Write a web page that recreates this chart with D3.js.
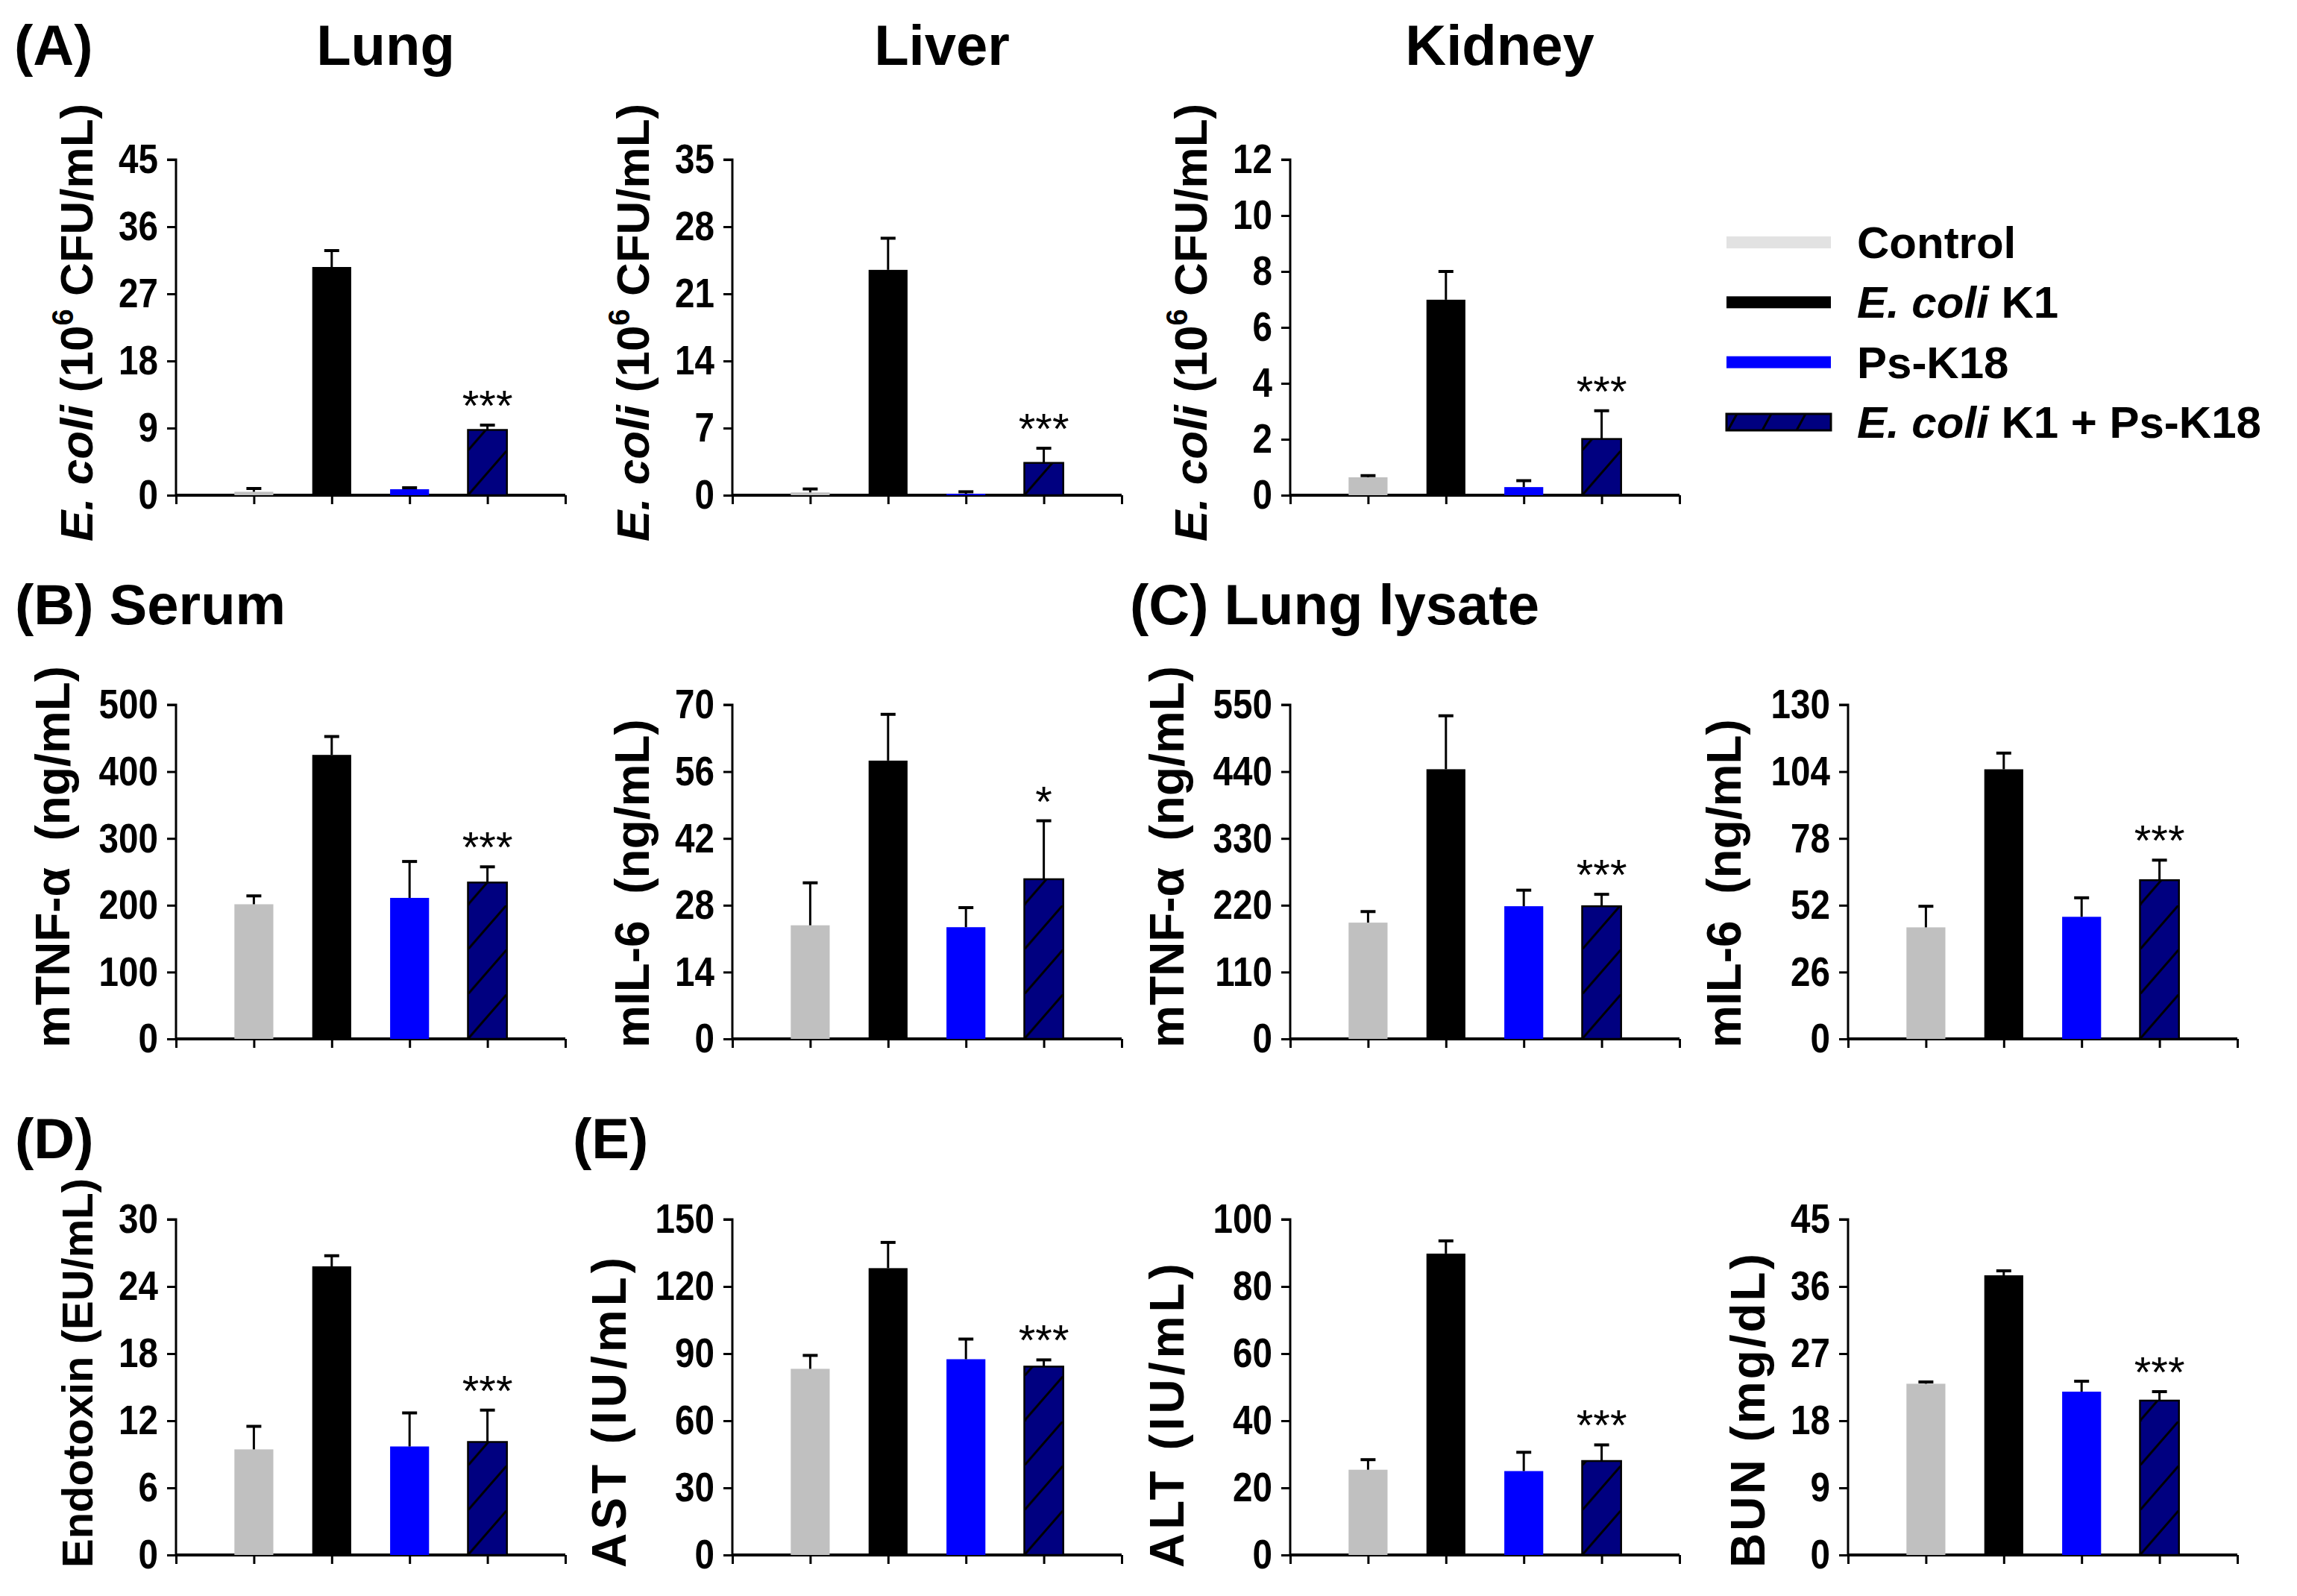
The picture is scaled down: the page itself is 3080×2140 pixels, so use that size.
<!DOCTYPE html>
<html>
<head>
<meta charset="utf-8">
<script src="https://cdn.jsdelivr.net/npm/d3@7/dist/d3.min.js"></script>
<style>
  html, body { margin: 0; padding: 0; background: #ffffff; }
  svg { display: block; }
  text { font-family: "Liberation Sans", Arial, Helvetica, sans-serif; }
</style>
</head>
<body>
<svg id="chart" width="3080" height="2140"></svg>
<script>
// ---------------- DATA ----------------
const groups = ["Control", "E. coli K1", "Ps-K18", "E. coli K1 + Ps-K18"];
const groupColors = ["#c0c0c0", "#000000", "#0000ff", "#000080"];

// (A) bacterial load, 10^6 CFU/mL
const lungCFU      = [0.46, 30.6, 0.8, 8.75];
const lungCFUsd    = [0.44, 2.2, 0.2, 0.65];
const liverCFU     = [0.29, 23.5, 0.14, 3.37];
const liverCFUsd   = [0.36, 3.3, 0.22, 1.53];
const kidneyCFU    = [0.64, 6.99, 0.29, 2.01];
const kidneyCFUsd  = [0.06, 1.01, 0.23, 1.01];
// (B) serum
const serumTNF     = [201.5, 425, 211, 234];
const serumTNFsd   = [12.5, 27.5, 54.5, 23.5];
const serumIL6     = [23.8, 58.3, 23.4, 33.45];
const serumIL6sd   = [8.9, 9.7, 4.1, 12.25];
// (C) lung lysate
const lysateTNF    = [191.4, 443.9, 218.4, 218.4];
const lysateTNFsd  = [18.2, 88, 26.4, 19.6];
const lysateIL6    = [43.4, 104.9, 47.5, 61.75];
const lysateIL6sd  = [8.2, 6.3, 7.4, 7.8];
// (D) endotoxin, (E) biochemistry
const endotoxin    = [9.44, 25.8, 9.7, 10.1];
const endotoxinSd  = [2.06, 0.95, 3.0, 2.85];
const ast          = [83.2, 128.2, 87.5, 84.2];
const astSd        = [6.0, 11.5, 9.0, 3.0];
const alt          = [25.4, 89.8, 25.0, 28.0];
const altSd        = [3.0, 3.8, 5.6, 4.8];
const bun          = [22.96, 37.5, 21.9, 20.7];
const bunSd        = [0.24, 0.6, 1.4, 1.2];

// axis maxima and tick steps
const axisMax  = [45, 35, 12, 500, 70, 550, 130, 30, 150, 100, 45];
const axisStep = [9, 7, 2, 100, 14, 110, 26, 6, 30, 20, 9];
const significance = ["***", "***", "***", "***", "*", "***", "***", "***", "***", "***", "***"];
const yLabels = ["ecoli", "ecoli", "ecoli",
                 "mTNF-α\u00a0\u00a0(ng/mL)", "mIL-6\u00a0\u00a0(ng/mL)", "mTNF-α\u00a0\u00a0(ng/mL)", "mIL-6\u00a0\u00a0(ng/mL)",
                 "Endotoxin (EU/mL)", "AST (IU/mL)", "ALT (IU/mL)", "BUN (mg/dL)"];
const organTitles = ["Lung", "Liver", "Kidney"];
const panelTitles = ["(A)", "(B) Serum", "(C) Lung lysate", "(D)", "(E)"];

// ---------------- LAYOUT / STYLE ----------------
const colX = [236, 982, 1730, 2478];
const plotW = 522;
const rowTop = [214, 945, 1635];
const rowZero = [664, 1393, 2085];
const labelBottomOffset = [62, 12, 17];
const labelFont    = [62, 62, 62, 64, 64, 64, 64, 58, 64, 64, 64];
const labelSpacing = [0, 0, 0, 0, 0, 0, 0, 0, 5, 5, 3];
const FONT_TICK = 56, TICK_SX = 0.85, FONT_TITLE = 76, FONT_LEG = 60, FONT_STAR = 58;

const panels = [
  { row: 0, col: 0, mean: lungCFU,   sd: lungCFUsd },
  { row: 0, col: 1, mean: liverCFU,  sd: liverCFUsd },
  { row: 0, col: 2, mean: kidneyCFU, sd: kidneyCFUsd },
  { row: 1, col: 0, mean: serumTNF,  sd: serumTNFsd },
  { row: 1, col: 1, mean: serumIL6,  sd: serumIL6sd },
  { row: 1, col: 2, mean: lysateTNF, sd: lysateTNFsd },
  { row: 1, col: 3, mean: lysateIL6, sd: lysateIL6sd },
  { row: 2, col: 0, mean: endotoxin, sd: endotoxinSd },
  { row: 2, col: 1, mean: ast,       sd: astSd },
  { row: 2, col: 2, mean: alt,       sd: altSd },
  { row: 2, col: 3, mean: bun,       sd: bunSd }
].map((p, i) => Object.assign(p, {
  max: axisMax[i], step: axisStep[i], sig: significance[i], label: yLabels[i],
  lf: labelFont[i], ls: labelSpacing[i]
}));

const svg = d3.select("#chart");
const defs = svg.append("defs");

function makeHatch(id, x0, y0, w) {
  const h = 60;
  const pat = defs.append("pattern")
    .attr("id", id).attr("patternUnits", "userSpaceOnUse")
    .attr("x", x0).attr("y", y0).attr("width", w).attr("height", h);
  pat.append("rect").attr("width", w).attr("height", h).attr("fill", "#000080");
  pat.append("line").attr("x1", 0).attr("y1", h).attr("x2", w).attr("y2", 0)
    .attr("stroke", "#000").attr("stroke-width", 3);
}

panels.forEach((p, pi) => {
  const x0 = colX[p.col];
  const y = d3.scaleLinear().domain([0, p.max]).range([rowZero[p.row], rowTop[p.row]]);
  const x = d3.scaleLinear().domain([0, 5]).range([x0, x0 + plotW]);
  const barW = (x(1) - x(0)) * 0.5;
  const g = svg.append("g");

  // y axis
  const ticks = d3.range(0, p.max + p.step / 2, p.step);
  const yAxis = d3.axisLeft(y).tickValues(ticks).tickSize(12).tickPadding(12).tickFormat(d3.format("d"));
  const ya = g.append("g").attr("transform", `translate(${x0},0)`).call(yAxis);
  ya.select(".domain").attr("stroke", "#000").attr("stroke-width", 3).attr("d", `M-12,${y(p.max)}H0V${y(0)}`);
  ya.selectAll(".tick line").attr("stroke", "#000").attr("stroke-width", 3);
  ya.selectAll(".tick text").attr("font-size", FONT_TICK).attr("font-weight", "bold").attr("fill", "#000")
    .attr("x", -24 / TICK_SX).attr("transform", `scale(${TICK_SX},1)`);

  // x axis
  const xAxis = d3.axisBottom(x).tickValues(d3.range(0, 6)).tickSize(12).tickFormat("");
  const xa = g.append("g").attr("transform", `translate(0,${y(0)})`).call(xAxis);
  xa.select(".domain").attr("stroke", "#000").attr("stroke-width", 4).attr("d", `M${x(0)},0H${x(5)}`);
  xa.selectAll(".tick line").attr("stroke", "#000").attr("stroke-width", 3);

  // hatch pattern for this panel
  const hid = "hatch" + pi;
  makeHatch(hid, x(4) - barW / 2, y(0), barW);

  // bars
  g.selectAll("rect.bar").data(p.mean).join("rect")
    .attr("class", "bar")
    .attr("x", (d, i) => x(i + 1) - barW / 2)
    .attr("width", barW)
    .attr("y", d => y(d))
    .attr("height", d => y(0) - y(d))
    .attr("fill", (d, i) => i === 3 ? `url(#${hid})` : groupColors[i])
    .attr("stroke", (d, i) => i === 3 ? "#000" : "none")
    .attr("stroke-width", 2.5);

  // error bars (upper)
  const eb = g.selectAll("g.err").data(p.mean).join("g").attr("class", "err");
  eb.append("line")
    .attr("x1", (d, i) => x(i + 1)).attr("x2", (d, i) => x(i + 1))
    .attr("y1", d => y(d)).attr("y2", (d, i) => y(d + p.sd[i]))
    .attr("stroke", "#000").attr("stroke-width", 3);
  eb.append("line")
    .attr("x1", (d, i) => x(i + 1) - 10).attr("x2", (d, i) => x(i + 1) + 10)
    .attr("y1", (d, i) => y(d + p.sd[i])).attr("y2", (d, i) => y(d + p.sd[i]))
    .attr("stroke", "#000").attr("stroke-width", 4);

  // significance
  g.append("text")
    .attr("x", x(4)).attr("y", y(p.mean[3] + p.sd[3]) - 6)
    .attr("text-anchor", "middle").attr("font-size", FONT_STAR).attr("fill", "#000")
    .text(p.sig);

  // y label (placed left of the unscaled tick-label width, as measured)
  let maxW = 0;
  ya.selectAll(".tick text").each(function () { maxW = Math.max(maxW, this.getBBox().width); });
  const bx = x0 - 24 - maxW - 26;
  const by = rowZero[p.row] + labelBottomOffset[p.row];
  const lt = g.append("text").attr("transform", `translate(${bx},${by}) rotate(-90)`)
    .attr("text-anchor", "start").attr("font-size", p.lf).attr("font-weight", "bold")
    .attr("letter-spacing", p.ls).attr("fill", "#000");
  if (p.label === "ecoli") {
    lt.append("tspan").attr("font-style", "italic").text("E. coli");
    lt.append("tspan").text(" (10");
    lt.append("tspan").attr("font-size", 40).attr("dy", -26).text("6");
    lt.append("tspan").attr("dy", 26).text(" CFU/mL)");
  } else {
    lt.text(p.label);
  }

  // organ title (row A)
  if (p.row === 0) {
    svg.append("text").attr("x", x(2.5) + 20).attr("y", 87)
      .attr("text-anchor", "middle").attr("font-size", FONT_TITLE).attr("font-weight", "bold")
      .text(organTitles[p.col]);
  }
});

// panel letters / titles
const titlePos = [[19, 87], [20, 837], [1515, 837], [20, 1553], [768, 1553]];
panelTitles.forEach((t, i) => {
  svg.append("text").attr("x", titlePos[i][0]).attr("y", titlePos[i][1])
    .attr("font-size", FONT_TITLE).attr("font-weight", "bold").text(t);
});

// legend
const legY = d3.scalePoint().domain(groups).range([325, 566]);
const lp = defs.append("pattern").attr("id", "hatchLegSw").attr("patternUnits", "userSpaceOnUse")
  .attr("x", 2315).attr("y", legY(groups[3]) - 11).attr("width", 46).attr("height", 22);
lp.append("rect").attr("width", 46).attr("height", 22).attr("fill", "#000080");
lp.append("line").attr("x1", 2).attr("y1", 22).attr("x2", 14).attr("y2", 0).attr("stroke", "#000").attr("stroke-width", 3);

const lg = svg.append("g");
groups.forEach((gname, i) => {
  const cy = legY(gname);
  const hh = i === 3 ? 22 : 16;
  lg.append("rect").attr("x", 2315).attr("y", cy - hh / 2).attr("width", 140).attr("height", hh)
    .attr("fill", i === 0 ? "#e2e2e2" : (i === 3 ? "url(#hatchLegSw)" : groupColors[i]))
    .attr("stroke", i === 3 ? "#000" : "none").attr("stroke-width", 3);
  const t = lg.append("text").attr("x", 2490).attr("y", cy + 21)
    .attr("font-size", FONT_LEG).attr("font-weight", "bold");
  if (gname.startsWith("E. coli")) {
    t.append("tspan").attr("font-style", "italic").text("E. coli");
    t.append("tspan").text(gname.slice(7));
  } else {
    t.text(gname);
  }
});
</script>
</body>
</html>
